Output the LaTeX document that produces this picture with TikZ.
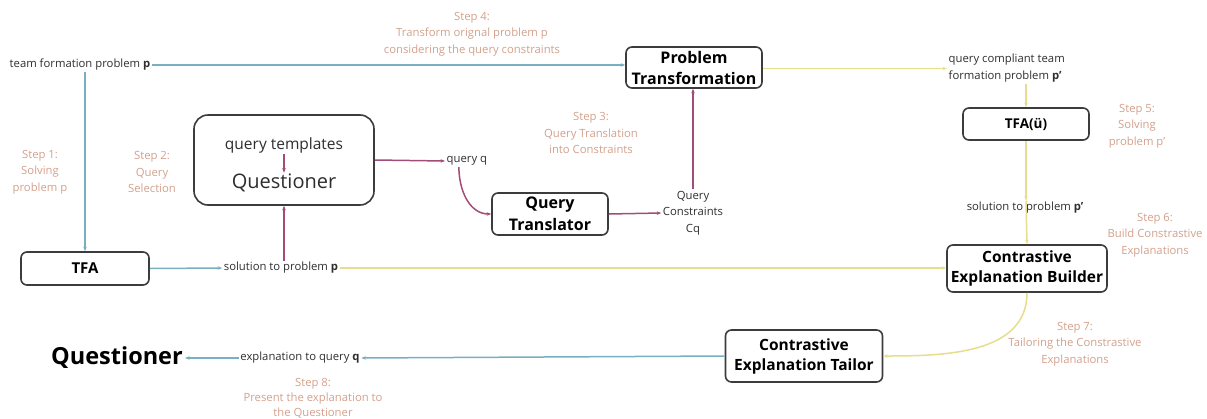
\documentclass[tikz,border=0pt]{standalone}
\usepackage{fontspec}
\setmainfont{Open Sans}
\usetikzlibrary{arrows.meta}
\definecolor{bluel}{HTML}{7AAFC2}
\definecolor{yell}{HTML}{E6DE8C}
\definecolor{mag}{HTML}{A24C78}
\definecolor{steptxt}{HTML}{D3A08C}
\definecolor{boxline}{HTML}{3C3C3C}
\definecolor{txt}{HTML}{2E2E2E}
\tikzset{
  box/.style={draw=boxline, line width=1.6pt, rounded corners=6pt, fill=white,
    align=center, text=black, font=\bfseries\fontsize{15.5}{20}\selectfont, inner sep=0pt},
  lbl/.style={text=txt, font=\fontsize{11.3}{14}\selectfont, inner sep=1.5pt},
  steplbl/.style={text=steptxt, font=\fontsize{11.3}{16.5}\selectfont, align=center, inner sep=0pt},
  tip/.style={-{Stealth[length=4.5pt,width=3.5pt]}},
  bflow/.style={draw=bluel, line width=1.5pt, tip},
  yflow/.style={draw=yell, line width=1.5pt, tip},
  mflow/.style={draw=mag, line width=1.5pt, tip},
}
\begin{document}
\begin{tikzpicture}[x=1pt,y=-1pt]
\useasboundingbox (0,0) rectangle (1207,418);

% ---- main boxes ----
\node[box, minimum width=136pt, minimum height=41pt, font=\bfseries\fontsize{16}{21}\selectfont] (pt) at (694,67.5) {Problem\\Transformation};
\node[box, minimum width=126pt, minimum height=32pt, font=\bfseries\fontsize{13.5}{16}\selectfont] (tfa2) at (1026,124) {TFA(ü)};
\node[box, minimum width=160pt, minimum height=47pt] (ceb) at (1027,268.5) {Contrastive\\Explanation Builder};
\node[box, minimum width=128pt, minimum height=33pt, font=\bfseries\fontsize{15}{18}\selectfont] (tfa1) at (85,268.5) {TFA};
\node[box, minimum width=116pt, minimum height=42pt, font=\bfseries\fontsize{16}{22}\selectfont] (qtr) at (550,214) {Query\\Translator};
\node[box, minimum width=157pt, minimum height=52pt] (cet) at (804,356) {Contrastive\\Explanation Tailor};
\node[draw=boxline, line width=1.6pt, rounded corners=14pt, fill=white,
      minimum width=180pt, minimum height=90pt] (qbox) at (284,160) {};
\node[text=txt, font=\fontsize{15.5}{18}\selectfont, inner sep=1pt] (qtpl) at (284,145) {query templates};
\node[text=txt, font=\fontsize{20}{24}\selectfont, inner sep=1pt] (qname) at (284,183) {Questioner};

% ---- data labels ----
\node[lbl, anchor=west] (tfp) at (8,65) {team formation problem \textbf{p}};
\node[lbl, anchor=west, align=left, font=\fontsize{11.3}{17}\selectfont] (qc) at (947,68.5) {query compliant team\\formation problem \textbf{p'}};
\node[lbl] (sol2) at (1025,208) {solution to problem \textbf{p'}};
\node[lbl] (sol1) at (281,268) {solution to problem \textbf{p}};
\node[lbl, anchor=west] (qq) at (445,161) {query q};
\node[lbl, align=center, font=\fontsize{11.3}{16.5}\selectfont] (cq) at (693,213) {Query\\Constraints\\Cq};
\node[lbl] (eq) at (300,358) {explanation to query \textbf{q}};
\node[text=black, font=\bfseries\fontsize{23.5}{26}\selectfont, inner sep=2pt] (qbig) at (117,358) {Questioner};

% ---- step annotations ----
\node[steplbl] (s1) at (40,172) {Step 1:\\Solving\\problem p};
\node[steplbl] (s2) at (152,172) {Step 2:\\Query\\Selection};
\node[steplbl] (s3) at (591,133) {Step 3:\\Query Translation\\into Constraints};
\node[steplbl] (s4) at (472,34) {Step 4:\\Transform orignal problem p\\considering the query constraints};
\node[steplbl] (s5) at (1137,126) {Step 5:\\Solving\\problem p'};
\node[steplbl] (s6) at (1155,235) {Step 6:\\Build Constrastive\\Explanations};
\node[steplbl] (s7) at (1075,344) {Step 7:\\Tailoring the Constrastive\\Explanations};
\node[steplbl, font=\fontsize{11.3}{15}\selectfont] (s8) at (313,398) {Step 8:\\Present the explanation to\\the Questioner};

% ---- blue flows ----
\draw[bflow] (tfp.east) -- (tfp.east -| pt.west);
\draw[bflow] (tfa1.north |- tfp.south) -- (tfa1.north);
\draw[bflow] (tfa1.east) -- (sol1.west);
\draw[bflow] (cet.west) -- (eq.east);
\draw[bflow] (eq.west) -- (qbig.east);

% ---- yellow flows ----
\draw[yflow] (pt.east |- qc.west) -- (qc.west);
\draw[yflow] (qc.south -| tfa2.north) -- (tfa2.north);
\draw[yflow] (tfa2.south) -- (sol2.north -| tfa2.south);
\draw[yflow] (sol2.north -| tfa2.south) -- (ceb.north);
\draw[yflow] (sol1.east) -- (sol1.east -| ceb.west);
\draw[yflow] (ceb.south) to[out=-90, in=0] (cet.east);

% ---- magenta flows ----
\draw[mflow] (qtpl.south) -- (qname.north);
\draw[mflow] (qbox.south |- sol1.north) -- (qbox.south);
\draw[mflow] (qbox.east) -- (qq.west);
\draw[mflow] ([xshift=-8pt]qq.south) to[out=-90, in=180] (qtr.west);
\draw[mflow] (qtr.east) -- (cq.west);
\draw[mflow] (cq.north) -- (cq.north |- pt.south);
\end{tikzpicture}
\end{document}
